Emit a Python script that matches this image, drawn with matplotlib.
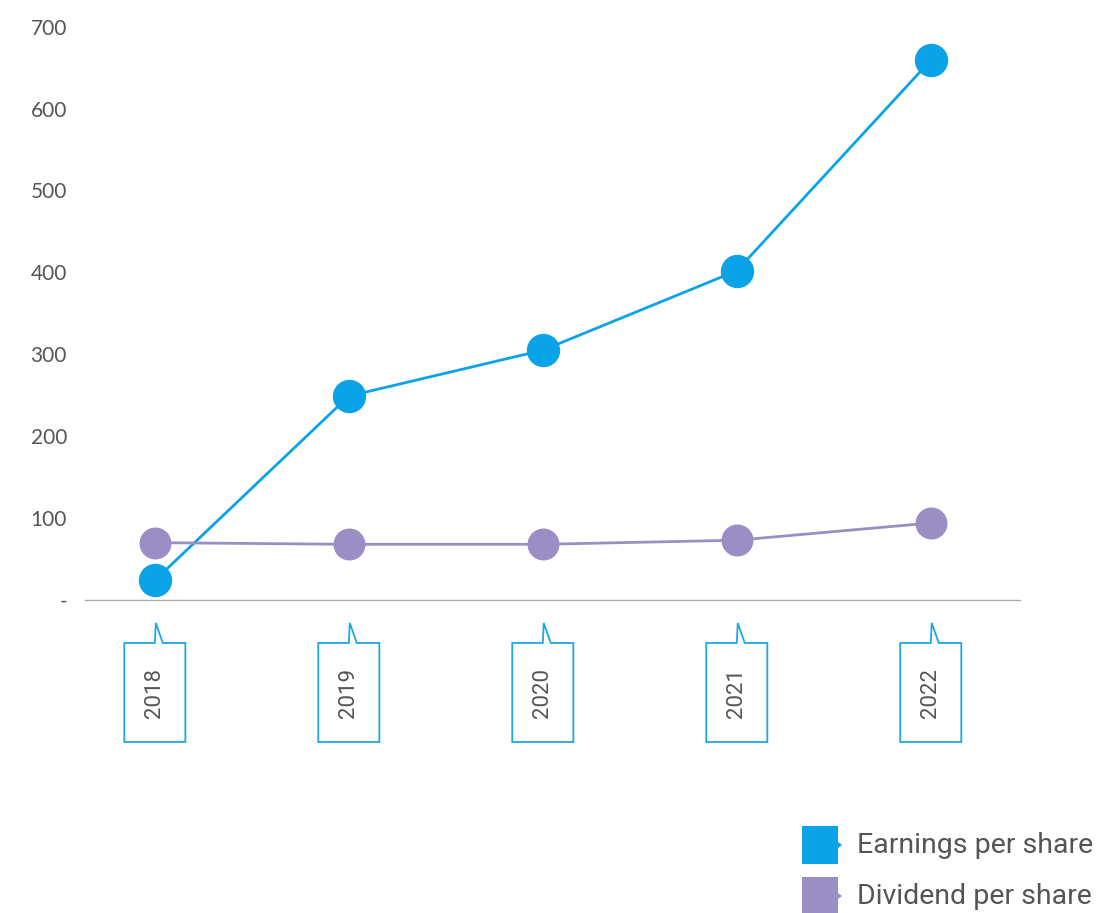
import numpy as np
import matplotlib.pyplot as plt
from matplotlib.patches import Polygon

years = ["2018", "2019", "2020", "2021", "2022"]
eps = [24, 249, 305, 402, 659]
dps = [70, 68, 68, 73, 94]
ytick_vals = [0, 100, 200, 300, 400, 500, 600, 700]
ytick_labels = ["-", "100", "200", "300", "400", "500", "600", "700"]

EPS_COLOR = "#0AA3E8"
DPS_COLOR = "#9B8EC4"
BOX_COLOR = "#1EA7E1"
TEXT_COLOR = "#555555"

W, H = 1101, 913
fig = plt.figure(figsize=(W / 100, H / 100), dpi=100)
ax = fig.add_axes([85 / W, 1 - 600 / H, 935 / W, (600 - 18.5) / H])

x = np.arange(len(years))
ax.plot(x, eps, color=EPS_COLOR, lw=2, marker="o", ms=23, zorder=3)
ax.plot(x, dps, color=DPS_COLOR, lw=2, marker="o", ms=22, zorder=3)

ax.set_xlim(-0.36, 4.46)
ax.set_ylim(0, 710)

ax.set_yticks(ytick_vals)
ax.set_yticklabels(ytick_labels, family="Lato", fontsize=15, color=TEXT_COLOR)
ax.tick_params(axis="y", length=0, pad=13)
ax.set_xticks([])

for s in ["top", "right", "left"]:
    ax.spines[s].set_visible(False)
ax.spines["bottom"].set_color("#aaaaaa")
ax.spines["bottom"].set_linewidth(1)

# callout boxes for the year labels (y in data units below the axis)
px = 0.819  # pixels per data unit vertically
ux = 193.75  # pixels per category horizontally
top = -43 / px
bot = -142 / px
tip = -23 / px
hw = 30.5 / ux
for i, yr in enumerate(years):
    pts = [(i - hw, top), (i, top), (i + 0.005, tip), (i + 8 / ux, top),
           (i + hw, top), (i + hw, bot), (i - hw, bot)]
    ax.add_patch(Polygon(pts, closed=True, facecolor="white", edgecolor=BOX_COLOR,
                         lw=1.3, clip_on=False))
    ax.text(i, (top + bot) / 2, yr, rotation=90, ha="center", va="center",
            family="Roboto", fontsize=16, color=TEXT_COLOR, clip_on=False)

# legend
for (label, col, y0) in [("Earnings per share", EPS_COLOR, 826),
                         ("Dividend per share", DPS_COLOR, 877)]:
    x0, x1, y1 = 802, 838, y0 + 38
    ym = (y0 + y1) / 2
    pts = [(x0, y0), (x1, y0), (x1, ym - 3), (x1 + 4, ym), (x1, ym + 3), (x1, y1), (x0, y1)]
    pts = [(a / W, 1 - b / H) for a, b in pts]
    fig.patches.append(Polygon(pts, closed=True, facecolor=col, edgecolor="none",
                               transform=fig.transFigure))
    fig.text(857 / W, 1 - ym / H, label, ha="left", va="center", family="Roboto",
             fontsize=20.5, color=TEXT_COLOR)

fig.savefig("out.png", dpi=100)
